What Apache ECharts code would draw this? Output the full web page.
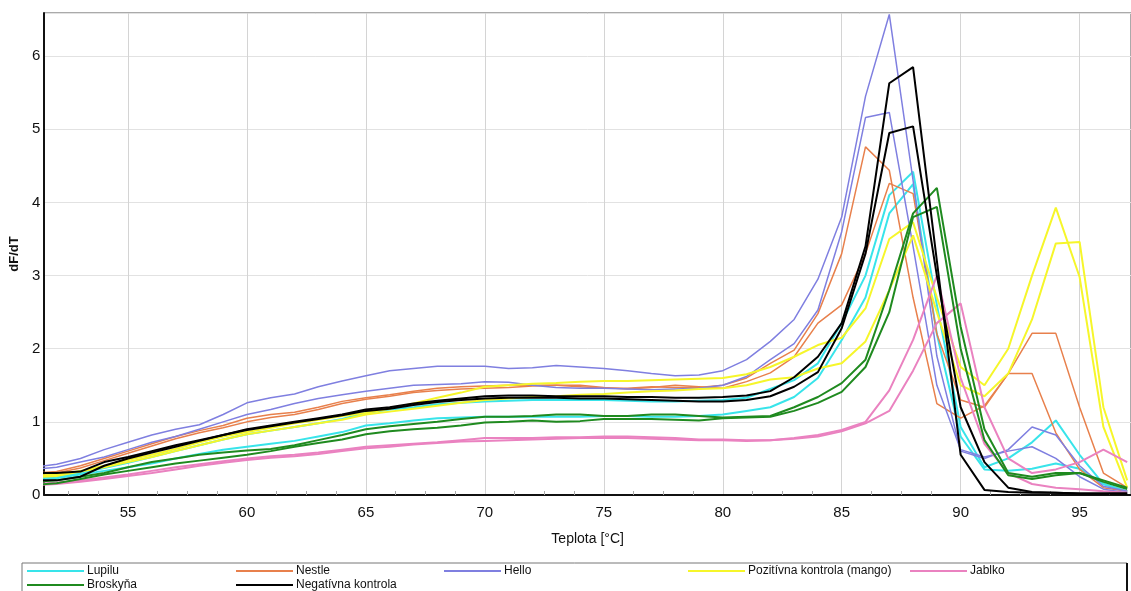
<!DOCTYPE html>
<html>
<head>
    <meta charset="utf-8" />
    <title>dF/dT</title>
    <script src="https://cdn.jsdelivr.net/npm/echarts@6/dist/echarts.min.js"></script>
    <style>
        html, body { margin: 0; padding: 0; background: #fff; }
        #main { width: 1131px; height: 591px; }
    </style>
</head>
<body>
    <div id="main"></div>
    <script type="text/javascript">
        // temperatures (°C), one reading per degree
        const temps = [51, 52, 53, 54, 55, 56, 57, 58, 59, 60,
            61, 62, 63, 64, 65, 66, 67, 68, 69, 70,
            71, 72, 73, 74, 75, 76, 77, 78, 79, 80,
            81, 82, 83, 84, 85, 86, 87, 88, 89, 90,
            91, 92, 93, 94, 95, 96, 97];

        const xTicks = [55, 60, 65, 70, 75, 80, 85, 90, 95];
        const yTicks = [0, 1, 2, 3, 4, 5, 6];

        // Lupilu
        const lupiluA = [0.22, 0.25, 0.3, 0.37, 0.44, 0.52, 0.6, 0.68, 0.76, 0.83,
            0.88, 0.93, 0.98, 1.04, 1.12, 1.17, 1.2, 1.24, 1.26, 1.28,
            1.29, 1.3, 1.3, 1.3, 1.3, 1.29, 1.28, 1.28, 1.29, 1.3,
            1.33, 1.45, 1.57, 1.8, 2.35, 3.0, 4.1, 4.42, 2.6, 0.93,
            0.38, 0.5, 0.72, 1.02, 0.55, 0.15, 0.05];
        const lupiluB = [0.2, 0.23, 0.28, 0.33, 0.38, 0.43, 0.5, 0.56, 0.62, 0.66,
            0.7, 0.74, 0.8, 0.86, 0.95, 0.98, 1.02, 1.05, 1.06, 1.07,
            1.07, 1.07, 1.07, 1.07, 1.08, 1.08, 1.07, 1.07, 1.08, 1.1,
            1.15, 1.2, 1.34, 1.6, 2.12, 2.7, 3.85, 4.25, 2.2, 0.8,
            0.35, 0.33, 0.36, 0.43, 0.36, 0.15, 0.05];

        // Nestle
        const nestleA = [0.3, 0.32, 0.4, 0.5, 0.6, 0.7, 0.8, 0.88, 0.95, 1.05,
            1.1, 1.13, 1.2, 1.28, 1.33, 1.37, 1.42, 1.46, 1.48, 1.49,
            1.5, 1.5, 1.5, 1.48, 1.46, 1.46, 1.48, 1.47, 1.47, 1.5,
            1.6, 1.8, 1.98, 2.48, 3.3, 4.76, 4.44, 2.7, 1.25, 1.05,
            1.22, 1.66, 1.66, 0.85, 0.35, 0.1, 0.05];
        const nestleB = [0.28, 0.3, 0.37, 0.47, 0.57, 0.67, 0.77, 0.85, 0.92, 1.0,
            1.06, 1.1, 1.17, 1.25, 1.31, 1.35, 1.4, 1.43, 1.45, 1.46,
            1.47, 1.49, 1.5, 1.5, 1.47, 1.45, 1.47, 1.5, 1.48, 1.46,
            1.55, 1.67, 1.89, 2.35, 2.6, 3.3, 4.26, 4.12, 2.2, 1.3,
            1.2, 1.66, 2.21, 2.21, 1.2, 0.3, 0.1];

        // Hello
        const helloA = [0.38, 0.42, 0.5, 0.62, 0.72, 0.82, 0.9, 0.96, 1.1, 1.26,
            1.33, 1.38, 1.48, 1.56, 1.63, 1.7, 1.73, 1.76, 1.76, 1.76,
            1.73, 1.74, 1.77, 1.75, 1.73, 1.7, 1.66, 1.63, 1.64, 1.7,
            1.85, 2.1, 2.4, 2.95, 3.8, 5.45, 6.57, 4.3, 1.9, 0.6,
            0.5, 0.62, 0.93, 0.82, 0.4, 0.12, 0.05];
        const helloB = [0.35, 0.38, 0.45, 0.52, 0.62, 0.72, 0.8, 0.9, 1.0, 1.1,
            1.17, 1.25, 1.32, 1.37, 1.42, 1.46, 1.5, 1.51, 1.52, 1.55,
            1.54, 1.5, 1.47, 1.46, 1.46, 1.45, 1.44, 1.45, 1.46, 1.5,
            1.62, 1.85, 2.07, 2.53, 3.6, 5.16, 5.23, 3.4, 1.5, 0.62,
            0.52, 0.6, 0.66, 0.5, 0.25, 0.08, 0.03];

        // Pozitívna kontrola (mango)
        const mangoA = [0.26, 0.28, 0.33, 0.4, 0.48, 0.55, 0.63, 0.72, 0.8, 0.86,
            0.92, 0.98, 1.03, 1.08, 1.12, 1.18, 1.25, 1.33, 1.4, 1.48,
            1.5, 1.52, 1.53, 1.55, 1.56, 1.56, 1.57, 1.58, 1.59, 1.6,
            1.65, 1.75, 1.89, 2.05, 2.15, 2.55, 3.5, 3.73, 2.7, 1.75,
            1.5, 2.0, 3.0, 3.93, 2.98, 0.93, 0.1];
        const mangoB = [0.24, 0.26, 0.32, 0.38, 0.45, 0.52, 0.6, 0.68, 0.76, 0.83,
            0.88, 0.93, 0.98, 1.03, 1.1, 1.14, 1.18, 1.22, 1.26, 1.3,
            1.32, 1.34, 1.35, 1.37, 1.38, 1.4, 1.42, 1.43, 1.45, 1.46,
            1.5, 1.58, 1.61, 1.73, 1.8, 2.1, 2.8, 3.55, 2.5, 1.5,
            1.35, 1.66, 2.4, 3.44, 3.46, 1.2, 0.2];

        // Jablko
        const jablkoA = [0.15, 0.17, 0.2, 0.24, 0.28, 0.33, 0.38, 0.42, 0.46, 0.5,
            0.53, 0.55, 0.58, 0.62, 0.66, 0.68, 0.7, 0.72, 0.75, 0.78,
            0.78, 0.78, 0.79, 0.79, 0.8, 0.8, 0.79, 0.78, 0.76, 0.76,
            0.75, 0.75, 0.78, 0.82, 0.89, 1.0, 1.43, 2.12, 3.0, 1.6,
            0.7, 0.3, 0.15, 0.1, 0.08, 0.05, 0.03];
        const jablkoB = [0.13, 0.15, 0.18, 0.22, 0.26, 0.3, 0.35, 0.4, 0.44, 0.48,
            0.51, 0.53, 0.56, 0.6, 0.64, 0.66, 0.69, 0.71, 0.73, 0.74,
            0.75, 0.76, 0.77, 0.78, 0.78, 0.78, 0.77, 0.76, 0.75, 0.75,
            0.74, 0.75, 0.77, 0.8, 0.87, 0.98, 1.15, 1.7, 2.35, 2.62,
            1.2, 0.5, 0.3, 0.35, 0.45, 0.62, 0.45];

        // Broskyňa
        const broskynaA = [0.18, 0.2, 0.25, 0.3, 0.38, 0.45, 0.5, 0.55, 0.58, 0.61,
            0.63, 0.68, 0.75, 0.82, 0.9, 0.94, 0.97, 1.0, 1.04, 1.07,
            1.07, 1.08, 1.1, 1.1, 1.08, 1.08, 1.1, 1.1, 1.08, 1.06,
            1.07, 1.08, 1.2, 1.34, 1.53, 1.85, 2.8, 3.85, 4.2, 2.3,
            0.9, 0.3, 0.25, 0.3, 0.3, 0.2, 0.1];
        const broskynaB = [0.14, 0.16, 0.22, 0.28, 0.33, 0.38, 0.43, 0.47, 0.51, 0.55,
            0.6, 0.66, 0.71, 0.76, 0.83, 0.87, 0.9, 0.92, 0.95, 0.99,
            1.0, 1.02, 1.0, 1.01, 1.04, 1.04, 1.04, 1.03, 1.02, 1.05,
            1.06, 1.07, 1.15, 1.26, 1.41, 1.75, 2.5, 3.8, 3.94, 2.0,
            0.75, 0.27, 0.22, 0.27, 0.3, 0.18, 0.08];

        // Negatívna kontrola
        const negativA = [0.3, 0.3, 0.32, 0.45, 0.52, 0.6, 0.68, 0.75, 0.82, 0.9,
            0.95, 1.0, 1.05, 1.1, 1.17, 1.2, 1.25, 1.29, 1.32, 1.35,
            1.36, 1.36, 1.35, 1.35, 1.35, 1.34, 1.34, 1.33, 1.33, 1.34,
            1.36, 1.42, 1.61, 1.89, 2.35, 3.4, 5.63, 5.85, 3.2, 0.55,
            0.07, 0.04, 0.03, 0.03, 0.02, 0.02, 0.02];
        const negativB = [0.2, 0.2, 0.25, 0.4, 0.5, 0.58, 0.66, 0.74, 0.82, 0.89,
            0.94, 0.99, 1.04, 1.09, 1.15, 1.18, 1.23, 1.27, 1.3, 1.32,
            1.33, 1.33, 1.33, 1.32, 1.32, 1.31, 1.3, 1.29, 1.28, 1.28,
            1.3, 1.35, 1.48, 1.68, 2.28, 3.3, 4.95, 5.04, 3.0, 1.2,
            0.45, 0.1, 0.04, 0.03, 0.02, 0.02, 0.02];

        const groups = [
            { name: 'Lupilu', color: '#38e4ea', width: 2, runs: [lupiluA, lupiluB], left: 27, top: 565 },
            { name: 'Nestle', color: '#e8804c', width: 1.5, runs: [nestleA, nestleB], left: 236, top: 565 },
            { name: 'Hello', color: '#7f7fe0', width: 1.5, runs: [helloA, helloB], left: 444, top: 565 },
            { name: 'Pozitívna kontrola (mango)', color: '#f6f62a', width: 2, runs: [mangoA, mangoB], left: 688, top: 565 },
            { name: 'Jablko', color: '#ea82c0', width: 2, runs: [jablkoA, jablkoB], left: 910, top: 565 },
            { name: 'Broskyňa', color: '#1f8a1f', width: 2, runs: [broskynaA, broskynaB], left: 27, top: 579 },
            { name: 'Negatívna kontrola', color: '#000000', width: 2, runs: [negativA, negativB], left: 236, top: 579 }
        ];

        // small ticks, four per 5 °C step
        const minorTicks = [];
        [50].concat(xTicks).forEach(t => {
            [1.25, 2.5, 3.75].forEach(d => {
                if (t + d > 51.5 && t + d < 97) minorTicks.push(t + d);
            });
        });

        const series = [];
        groups.forEach(g => {
            g.runs.forEach(run => {
                series.push({
                    name: g.name,
                    type: 'line',
                    showSymbol: false,
                    silent: true,
                    color: g.color,
                    lineStyle: { color: g.color, width: g.width },
                    data: run.map((v, i) => [temps[i], v])
                });
            });
        });

        const legends = groups.map(g => ({
            data: [g.name],
            left: g.left,
            top: g.top,
            padding: 0,
            icon: 'rect',
            itemWidth: 57,
            itemHeight: 2,
            selectedMode: false,
            textStyle: { fontFamily: 'Liberation Sans, Arial, sans-serif', fontSize: 12, color: '#111', padding: [0, 0, 0, -2] }
        }));

        const font = 'Liberation Sans, Arial, sans-serif';
        var chart = echarts.init(document.getElementById('main'), null, { renderer: 'canvas' });

        var option = {
            animation: false,
            backgroundColor: '#ffffff',
            grid: { left: 40, right: 0, top: 13, bottom: 96, show: true, borderColor: '#555', borderWidth: 1 },
            legend: legends,
            xAxis: [{
                type: 'value',
                min: 51.48,
                max: 97.16,
                name: 'Teplota [°C]',
                nameLocation: 'middle',
                nameGap: 37,
                nameTextStyle: { fontFamily: font, fontSize: 14, color: '#111' },
                axisLine: { show: true, lineStyle: { color: '#111', width: 2 } },
                axisTick: { show: false, customValues: xTicks },
                axisLabel: {
                    fontFamily: font, fontSize: 15, color: '#111', margin: 10,
                    customValues: xTicks
                },
                splitLine: { show: true, lineStyle: { color: '#d4d4d4', width: 1 } }
            }, {
                type: 'value',
                position: 'bottom',
                offset: 0,
                min: 51.48,
                max: 97.16,
                axisLine: { show: false },
                axisTick: { show: true, inside: true, length: 4, customValues: minorTicks, lineStyle: { color: '#aaa' } },
                axisLabel: { show: false },
                splitLine: { show: false }
            }],
            yAxis: {
                type: 'value',
                min: 0,
                max: 6.59,
                interval: 1,
                name: 'dF/dT',
                nameLocation: 'middle',
                nameGap: 23,
                nameTextStyle: { fontFamily: font, fontSize: 13, fontWeight: 'bold', color: '#111' },
                axisLine: { show: true, lineStyle: { color: '#111', width: 2 } },
                axisTick: { show: false },
                axisLabel: {
                    fontFamily: font, fontSize: 15, color: '#111', margin: 4,
                    showMaxLabel: false,
                    formatter: v => yTicks.includes(v) ? String(v) : ''
                },
                splitLine: { show: true, lineStyle: { color: '#e2e2e2', width: 1 } }
            },
            graphic: [
                { type: 'rect', silent: true, shape: { x: 22, y: 563, width: 1105, height: 40 },
                  style: { fill: 'none', stroke: '#777', lineWidth: 1 } },
                { type: 'line', silent: true, shape: { x1: 1127, y1: 563, x2: 1127, y2: 591 },
                  style: { stroke: '#111', lineWidth: 2 } }
            ],
            series: series
        };

        chart.setOption(option);
    </script>
</body>
</html>
